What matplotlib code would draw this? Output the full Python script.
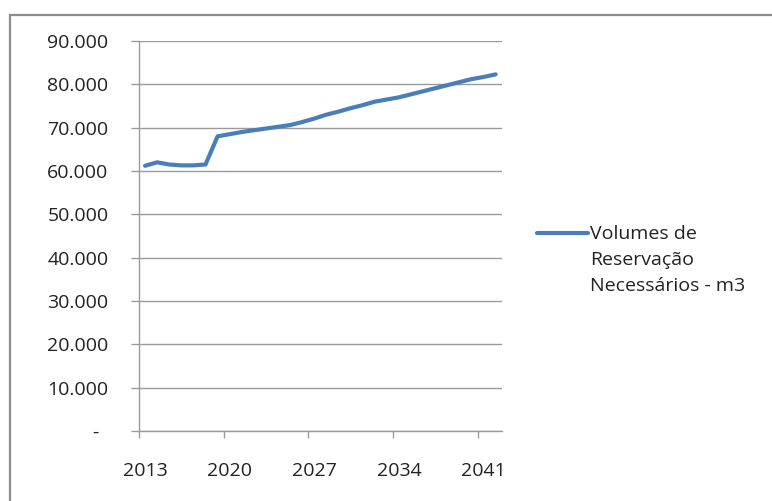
import numpy as np
import matplotlib
matplotlib.use("Agg")
import matplotlib.pyplot as plt
from matplotlib.patches import Rectangle
from matplotlib.legend_handler import HandlerLine2D
from matplotlib.transforms import ScaledTranslation

years = list(range(2013, 2043))
volumes = [61200, 62000, 61500, 61300, 61300, 61500, 68000, 68500, 69000, 69400,
           69800, 70200, 70600, 71300, 72100, 73000, 73700, 74500, 75200, 76000,
           76500, 77000, 77700, 78400, 79100, 79800, 80500, 81200, 81700, 82300]
series_label = "Volumes de\nReservação\nNecessários - m3"
y_ticks = [0, 10000, 20000, 30000, 40000, 50000, 60000, 70000, 80000, 90000]
label_every = 7

plt.rcParams['font.family'] = ['Open Sans', 'DejaVu Sans']
text_color = '#222222'
grid_color = '#9a9a9a'
line_color = '#4a7ebb'

W, H = 772, 501
fig = plt.figure(figsize=(W / 100, H / 100), dpi=100)
ax = fig.add_axes([139 / W, 1 - 431 / H, (501.7 - 139) / W, (431 - 41) / H])

x = np.arange(len(years))
ax.plot(x, volumes, color=line_color, lw=3.0, solid_capstyle='round',
        solid_joinstyle='round', label=series_label, zorder=3)

# category axis: ticks sit between categories, labels on category centres
ax.set_xlim(-0.5, len(years) - 0.5)
ax.set_xticks(np.arange(-0.5, len(years), label_every))
ax.set_xticklabels([])
ax.set_xticks(x[::label_every], minor=True)
ax.set_xticklabels([str(y) for y in years[::label_every]], minor=True)
ax.tick_params(axis='x', which='major', length=5, width=1, color=grid_color)
ax.tick_params(axis='x', which='minor', length=0, pad=22, labelsize=14,
               labelcolor=text_color)

ax.set_ylim(0, 90000)
ax.set_yticks(y_ticks)
ax.set_yticklabels(['-' if v == 0 else f"{v:,.0f}".replace(',', '.') for v in y_ticks])
ax.tick_params(axis='y', length=6, width=1, color=grid_color, pad=16,
               labelsize=14, labelcolor=text_color)
# the zero label sits further left, as in accounting number format
zero_lbl = ax.get_yticklabels()[0]
zero_lbl.set_transform(zero_lbl.get_transform() +
                       ScaledTranslation(-7 / 72, 0, fig.dpi_scale_trans))

ax.grid(axis='y', color=grid_color, lw=1)
ax.set_axisbelow(True)
for s in ['top', 'right']:
    ax.spines[s].set_visible(False)
for s in ['left', 'bottom']:
    ax.spines[s].set_color(grid_color)
    ax.spines[s].set_linewidth(1)


class FirstLineHandler(HandlerLine2D):
    # put the legend line next to the first text line
    def create_artists(self, *args, **kwargs):
        artists = super().create_artists(*args, **kwargs)
        for a in artists:
            a.set_ydata(np.asarray(a.get_ydata()) + 19.5)
        return artists


leg = fig.legend(handler_map={plt.Line2D: FirstLineHandler()},
                 loc='center left', bbox_to_anchor=(537 / W, 1 - 260 / H),
                 frameon=False, fontsize=14, handlelength=2.6, handletextpad=0.15,
                 borderpad=0, borderaxespad=0, labelcolor=text_color)
for t in leg.get_texts():
    t.set_linespacing(1.6)

# chart area border
fig.patches.append(Rectangle((10 / W, -0.2), 1.0, 1 - 15 / H + 0.2,
                             transform=fig.transFigure, fill=False,
                             edgecolor='#8c8c8c', lw=1.6))

fig.savefig('out.png', dpi=100)
